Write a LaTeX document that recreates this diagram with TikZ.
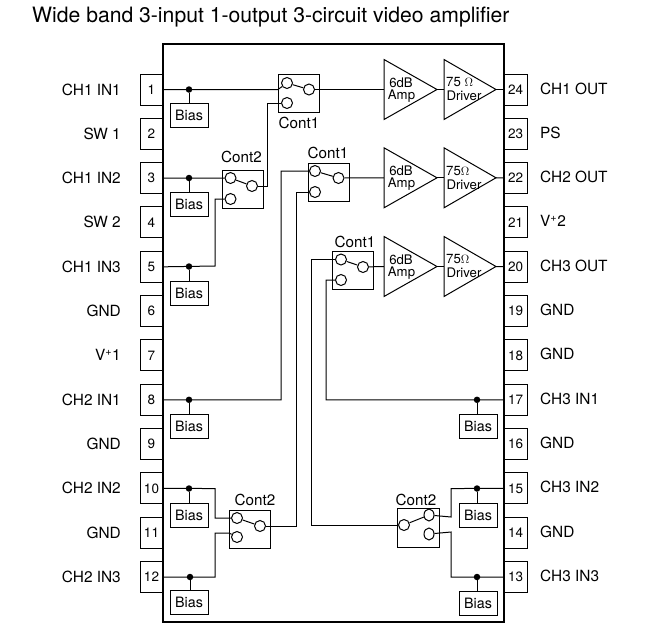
\documentclass[tikz,border=0pt]{standalone}
\usepackage{fontspec}
\setmainfont{TeX Gyre Heros}
\usetikzlibrary{shapes.geometric}
\tikzset{
 wire/.style={line width=1pt,line join=miter},
 pinbox/.style={draw,line width=1pt,minimum width=23pt,minimum height=31pt,inner sep=0pt,font=\fontsize{13.5}{13.5}\selectfont},
 biasbox/.style={draw,line width=1pt,minimum width=38pt,minimum height=24pt,inner sep=0pt,font=\fontsize{14.3}{14.3}\selectfont},
 swbox/.style={draw,line width=1pt,minimum width=41pt,minimum height=38pt,inner sep=0pt},
 contact/.style={circle,draw,line width=1pt,minimum size=11pt,inner sep=0pt,fill=white},
 contactv/.style={ellipse,draw,line width=1pt,minimum width=10pt,minimum height=12pt,inner sep=0pt,fill=white},
 junction/.style={circle,fill=black,minimum size=6.5pt,inner sep=0pt},
 lab/.style={inner sep=0pt,font=\fontsize{15.4}{16}\selectfont},
 contlab/.style={inner sep=0pt,anchor=base,font=\fontsize{15.2}{16}\selectfont},
 tri/.style={draw,line width=1pt,line join=miter},
 tritext/.style={inner sep=0pt,font=\fontsize{13.2}{14}\selectfont},
}
\begin{document}
\begin{tikzpicture}[x=1pt,y=-1pt]
\useasboundingbox (0,0) rectangle (661,624);
\node[inner sep=0pt,anchor=base west,font=\fontsize{21.15}{22}\selectfont] (title) at (32,22.7) {Wide band 3-input 1-output 3-circuit video amplifier};
% pins
\foreach \n/\t in {1/CH1 IN1,2/SW 1,3/CH1 IN2,4/SW 2,5/CH1 IN3,6/GND,7/V\textsuperscript{+}1,8/CH2 IN1,9/GND,10/CH2 IN2,11/GND,12/CH2 IN3}{
  \pgfmathsetmacro{\yy}{89.5+44.33*(\n-1)}
  \pgfmathsetmacro{\yb}{\yy+5.5}
  \node[pinbox] (p\n) at (151.5,\yy) {\n};
  \node[lab,anchor=base east] (l\n) at (121,\yb) {\t};
}
\foreach \n/\t in {24/CH1 OUT,23/PS,22/CH2 OUT,21/V\textsuperscript{+}2,20/CH3 OUT,19/GND,18/GND,17/CH3 IN1,16/GND,15/CH3 IN2,14/GND,13/CH3 IN3}{
  \pgfmathsetmacro{\yy}{89.5+44.33*(24-\n)}
  \pgfmathsetmacro{\yb}{\yy+4.5}
  \node[pinbox] (p\n) at (515.5,\yy) {\n};
  \node[lab,anchor=base west] (l\n) at (540,\yb) {\t};
}
% chip
\node[draw,line width=2pt,minimum width=341pt,minimum height=578pt,inner sep=0pt,fill=none] (chip) at (333.5,333) {};
% bias
\foreach \n/\x/\y in {a/189/115,b/189/204,c/189/293,d/189/426,e/189/515,f/189/602,g/478/426,h/478/515,i/478/603}{
  \node[biasbox] (bias\n) at (\x,\y) {Bias};
}
% switches
\node[swbox] (s1) at (298.5,93) {};
\node[swbox] (s2) at (242.5,189) {};
\node[swbox] (s3) at (328.5,182) {};
\node[swbox] (s4) at (353,270.5) {};
\node[swbox] (s5) at (249.5,529) {};
\node[swbox,minimum width=42pt,minimum height=39pt] (s6) at (418,527.5) {};
\node[contlab] (c1) at (299,128) {Cont1};
\node[contlab] (c2) at (241.5,162.7) {Cont2};
\node[contlab] (c3) at (328,158) {Cont1};
\node[contlab] (c4) at (355,247) {Cont1};
\node[contlab] (c5) at (255,505) {Cont2};
\node[contlab] (c6) at (416,505) {Cont2};
% contacts
\node[contact] (s1a) at (287,83) {};
\node[contact] (s1o) at (309,89.5) {};
\node[contact] (s1b) at (287,103) {};
\node[contact] (s2a) at (230.5,178) {};
\node[contact] (s2o) at (252,186) {};
\node[contact] (s2b) at (230.5,199) {};
\node[contact] (s3a) at (315,171) {};
\node[contact] (s3o) at (338.5,178) {};
\node[contact] (s3b) at (315,192) {};
\node[contact] (s4a) at (341,259.5) {};
\node[contact] (s4o) at (363,267) {};
\node[contact] (s4b) at (341,280) {};
\node[contact] (s5a) at (237,518) {};
\node[contact] (s5o) at (260,526) {};
\node[contact] (s5b) at (237,537) {};
\node[contact] (s6o) at (404,525) {};
\node[contactv] (s6a) at (429,515) {};
\node[contactv] (s6b) at (429,534) {};
\foreach \k in {1,...,6}{\draw[wire] (s\k o) -- (s\k a);}
% amps
\foreach \k/\y/\sp in {1/89.5/\ ,2/177.8/{},3/266.5/{}}{
  \node[minimum size=0pt,inner sep=0pt] (amp\k) at (384,\y) {};
  \coordinate (ampo\k) at (437,\y);
  \coordinate (drvi\k) at (444,\y);
  \coordinate (drvo\k) at (496,\y);
  \draw[tri] (384,\y-30) -- (437,\y) -- (384,\y+30) -- cycle;
  \draw[tri] (444,\y-30) -- (496,\y) -- (444,\y+30) -- cycle;
  \draw[wire] (ampo\k) -- (drvi\k);
  \node[tritext] (ampt\k) at (401,\y-7) {6dB};
  \node[tritext] (ampu\k) at (401.5,\y+6.5) {Amp};
  \node[tritext,anchor=west] (drvt\k) at (446,\y-7) {75\sp$\Omega$};
  \node[tritext] (drvu\k) at (464,\y+6.5) {Driver};
}
\draw[wire] (drvo1) -- (p24);
\draw[wire] (drvo2) -- (p22);
\draw[wire] (drvo3) -- (p20);
\draw[wire] (s1o) -- (amp1);
\draw[wire] (s3o) -- (amp2);
\draw[wire] (s4o) -- (amp3);
% inputs
\draw[wire] (p1.east) -- (278,89.5) -- (s1a);
\draw[wire] (p3.east) -- (s2a);
\draw[wire] (p5.east) -- (215,266) -- (215,199) -- (s2b);
\draw[wire] (s2o) -- (267,186) -- (267,103) -- (s1b);
\draw[wire] (p8.east) -- (281,399.8) -- (281,171) -- (s3a);
\draw[wire] (s5o) -- (296,526) -- (296,192) -- (s3b);
\draw[wire] (p10.east) -- (215,488.5) -- (215,518) -- (s5a);
\draw[wire] (p12.east) -- (215,577) -- (215,533) -- (229,533) -- (s5b);
\draw[wire] (p17.west) -- (326,399.8) -- (326,280) -- (s4b);
\draw[wire] (s6o) -- (311,525) -- (311,259.5) -- (s4a);
\draw[wire] (p15.west) -- (451,488.5) -- (451,517) -- (s6a);
\draw[wire] (p13.west) -- (451,577) -- (451,532) -- (s6b);
% junctions
\foreach \n/\x/\y/\b in {j1/189/89.5/a,j3/189/178/b,j5/189/266.5/c,j8/189/399.8/d,j10/189/488.5/e,j12/190/577/f,j17/477/399.8/g,j15/477/488.5/h,j13/477/577/i}{
  \node[junction] (\n) at (\x,\y) {};
  \draw[wire] (\n) -- (\x,\y+14);
}
\end{tikzpicture}
\end{document}
